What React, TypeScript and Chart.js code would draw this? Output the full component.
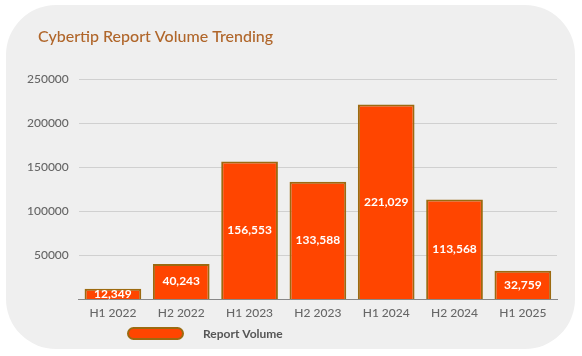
import React, { useEffect, useRef } from "react";
import { Chart, registerables } from "chart.js";

Chart.register(...registerables);

const categories = ["H1 2022", "H2 2022", "H1 2023", "H2 2023", "H1 2024", "H2 2024", "H1 2025"];
const reportVolume = [12349, 40243, 156553, 133588, 221029, 113568, 32759];
const yTicks = [0, 50000, 100000, 150000, 200000, 250000];
const titleText = "Cybertip Report Volume Trending";
const seriesLabel = "Report Volume";

const FONT = "Lato, 'Noto Sans', sans-serif";
const FILL = "#ff4500";
const EDGE = "#9c6a10";

export default function App() {
  const ref = useRef<HTMLCanvasElement | null>(null);

  useEffect(() => {
    if (!ref.current) return;
    const overlay = {
      id: "overlay",
      afterDraw(chart: any) {
        const ctx = chart.ctx;
        ctx.save();
        // title
        ctx.fillStyle = "#b0662a";
        ctx.font = `500 16px ${FONT}`;
        ctx.textBaseline = "middle";
        ctx.textAlign = "left";
        ctx.fillText(titleText, 38, 37);
        // data labels
        const meta = chart.getDatasetMeta(0);
        ctx.fillStyle = "#ffffff";
        ctx.font = `bold 12px ${FONT}`;
        ctx.textAlign = "center";
        meta.data.forEach((bar: any, i: number) => {
          const v = chart.data.datasets[0].data[i] as number;
          const y = (bar.y + bar.base) / 2;
          ctx.fillText(v.toLocaleString("en-US"), bar.x, y);
        });
        // legend
        const lx = 128, ly = 328, lw = 55, lh = 11;
        ctx.beginPath();
        ctx.roundRect(lx, ly, lw, lh, lh / 2);
        ctx.fillStyle = FILL;
        ctx.fill();
        ctx.lineWidth = 2;
        ctx.strokeStyle = EDGE;
        ctx.stroke();
        ctx.fillStyle = "#555555";
        ctx.font = `bold 12px ${FONT}`;
        ctx.textAlign = "left";
        ctx.fillText(chart.data.datasets[0].label, 203, ly + lh / 2 + 1);
        ctx.restore();
      },
    };
    const chart = new Chart(ref.current, {
      type: "bar",
      data: {
        labels: categories,
        datasets: [
          {
            label: seriesLabel,
            data: reportVolume,
            backgroundColor: FILL,
            borderColor: EDGE,
            borderWidth: 2,
            barPercentage: 0.83,
            categoryPercentage: 1,
          },
        ],
      },
      options: {
        animation: false,
        responsive: false,
        layout: { padding: { left: 17, right: 25, top: 79, bottom: 30 } },
        plugins: { legend: { display: false }, title: { display: false }, tooltip: { enabled: false } },
        scales: {
          x: {
            grid: { display: false, drawTicks: false },
            border: { color: "#888888", width: 1 },
            ticks: { color: "#666666", font: { family: FONT, size: 12, weight: "500" as any }, padding: 6 },
          },
          y: {
            min: 0,
            max: 250000,
            afterBuildTicks: (axis: any) => {
              axis.ticks = yTicks.map((v) => ({ value: v }));
            },
            grid: { color: "#d0d0d0", drawTicks: false },
            border: { display: false },
            ticks: {
              color: "#666666",
              font: { family: FONT, size: 12, weight: "500" as any },
              padding: 10,
              callback: (v: any) => (v === 0 ? "" : String(v)),
            },
          },
        },
      },
      plugins: [overlay],
    });
    return () => chart.destroy();
  }, []);

  return (
    <div style={{ position: "fixed", left: 0, top: 0, width: 582, height: 356, background: "#ffffff" }}>
      <div
        style={{
          position: "absolute",
          left: 6,
          top: 5,
          width: 569,
          height: 344,
          borderRadius: 50,
          background: "#efefef",
        }}
      />
      <canvas ref={ref} width={582} height={356} style={{ position: "absolute", left: 0, top: 0 }} />
    </div>
  );
}
